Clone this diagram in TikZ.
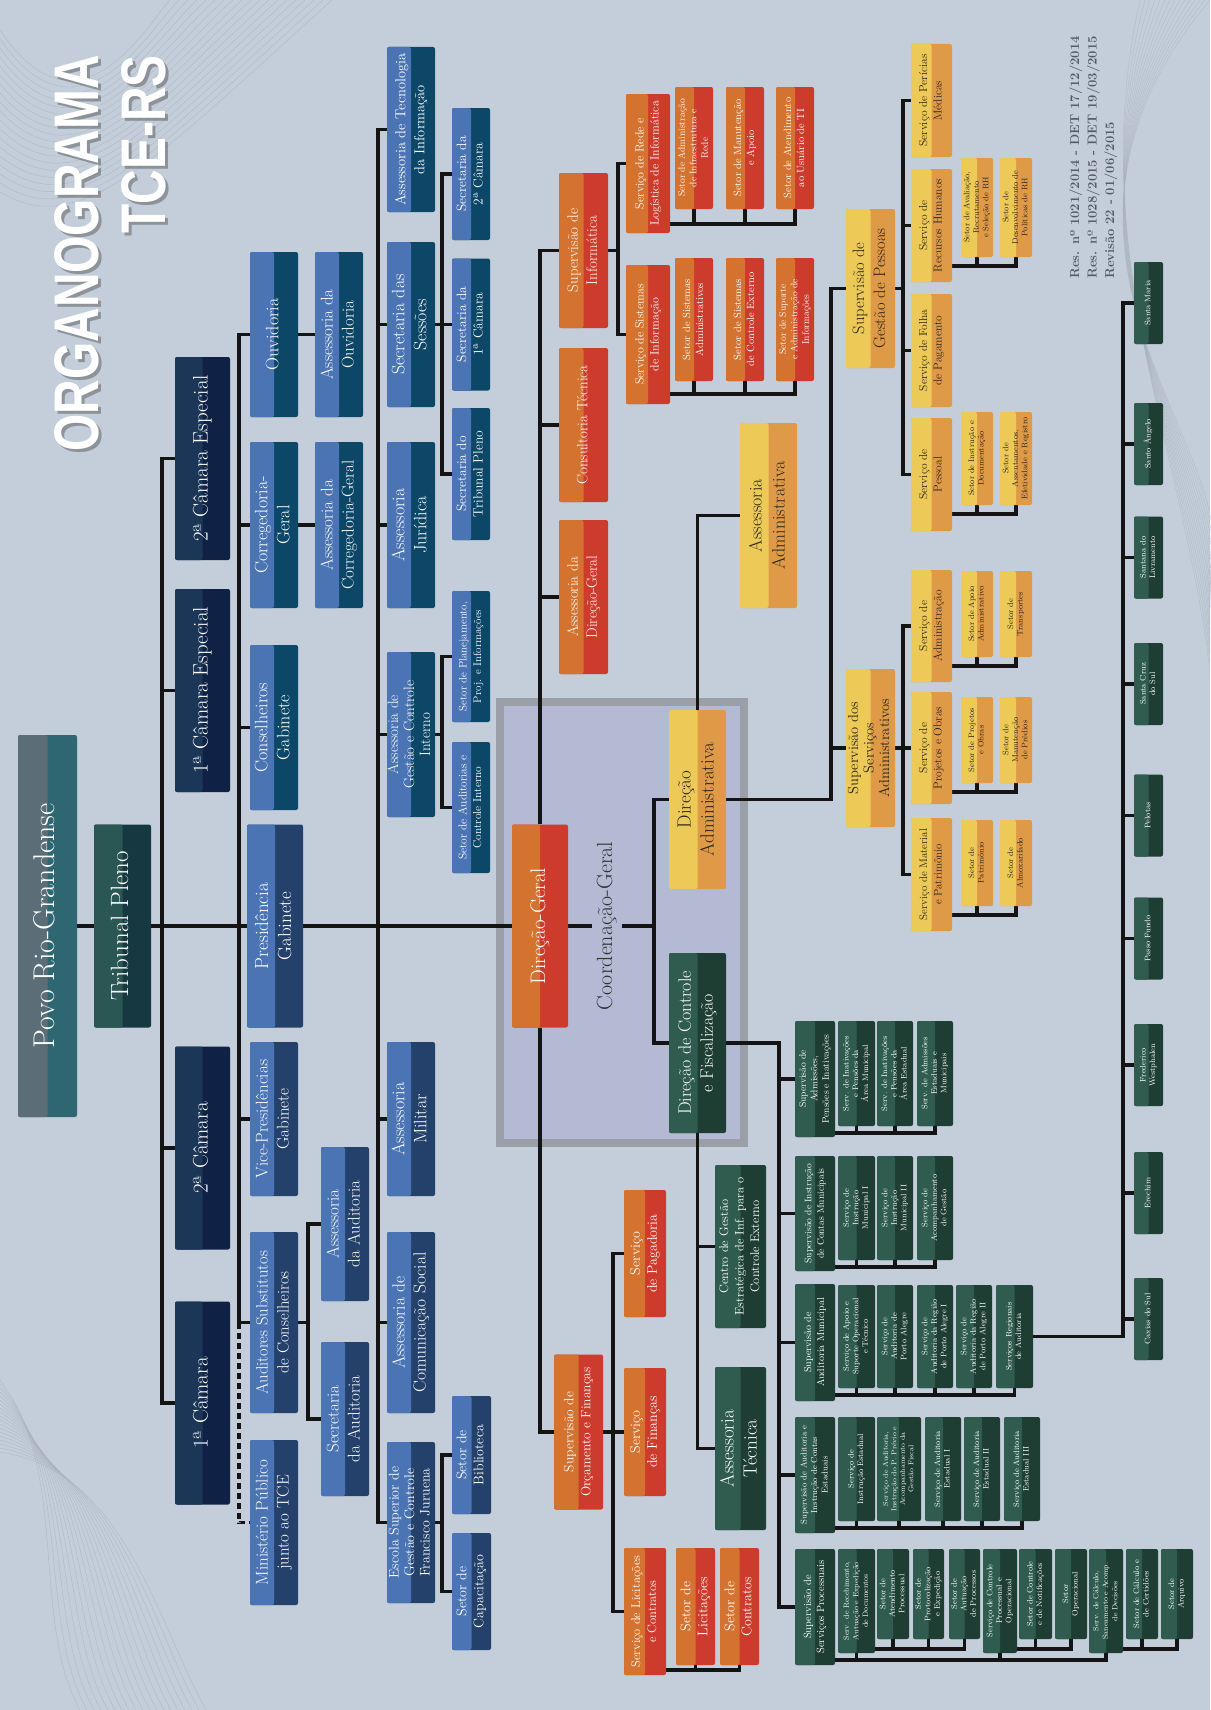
\documentclass[tikz,border=0pt]{standalone}
\usepackage{fontspec}
\usepackage{graphicx}
\usepackage{tikz}
\usetikzlibrary{calc,backgrounds}
\newfontfamily\titlefont[FakeStretch=0.76]{Liberation Sans}
\definecolor{bgc}{HTML}{C4CEDA}
\definecolor{deco}{HTML}{A7B0BB}
\definecolor{bluL}{HTML}{4A74B4}
\definecolor{bluT}{HTML}{0C4768}
\definecolor{bluN}{HTML}{24416B}
\definecolor{camL}{HTML}{1C3657}
\definecolor{camR}{HTML}{0F2246}
\definecolor{povL}{HTML}{5B6E77}
\definecolor{povR}{HTML}{2E6772}
\definecolor{triL}{HTML}{2A5653}
\definecolor{triR}{HTML}{163840}
\definecolor{orgL}{HTML}{D4722F}
\definecolor{orgR}{HTML}{CD3B2C}
\definecolor{yelL}{HTML}{EDCA57}
\definecolor{yelR}{HTML}{DF9A48}
\definecolor{yelT}{HTML}{2A2418}
\definecolor{grnL}{HTML}{2F5C4E}
\definecolor{grnR}{HTML}{1E3D33}
\definecolor{lnk}{HTML}{141414}
\definecolor{cgfill}{HTML}{B4BAD4}
\definecolor{cgline}{HTML}{9B9FA8}
\definecolor{resc}{HTML}{535C66}
\newcommand\rt[1]{\rotatebox{90}{\begin{tabular}{@{}c@{}}#1\end{tabular}}}
\newcommand\fs[2]{\fontsize{#1}{#2}\selectfont}

\begin{document}
\begin{tikzpicture}
  [x=1pt,y=-1pt,
   box/.style 2 args={rectangle, rounded corners=2pt, inner sep=0pt, text=white, fill=#2,
     path picture={\fill[#1] (path picture bounding box.north west) rectangle (path picture bounding box.south);}},
   sz/.style 2 args={minimum width=#1, minimum height=#2},
   pov/.style={box={povL}{povR}},
   tri/.style={box={triL}{triR}},
   cam/.style={box={camL}{camR}, sz={55}{203}, font=\fs{21}{25}},
   blu/.style={box={bluL}{bluT}},
   bln/.style={box={bluL}{bluN}},
   org/.style={box={orgL}{orgR}},
   yel/.style={box={yelL}{yelR}, text=yelT},
   grn/.style={box={grnL}{grnR}},
   sml/.style={grn, font=\fs{8}{9.5}},
   ysml/.style={yel, font=\fs{8}{9.5}},
   dlg/.style={grn, sz={29}{82}, font=\fs{8}{9.5}},
   link/.style={draw=lnk, line width=3.5pt}]
  \path[use as bounding box] (0,0) rectangle (1210,1710);

  % title and revision
  \node[text=black!70, opacity=.45, font=\titlefont\bfseries\fs{63}{67}, anchor=north, inner sep=0pt] (ttlshade) at (122,58)
    {\rotatebox{90}{\begin{tabular}{@{}r@{}}ORGANOGRAMA\\TCE-RS\end{tabular}}};
  \node[text=white, font=\titlefont\bfseries\fs{63}{67}, anchor=north, inner sep=0pt] (ttl) at (119,55)
    {\rotatebox{90}{\begin{tabular}{@{}r@{}}ORGANOGRAMA\\TCE-RS\end{tabular}}};
  \node[text=resc, font=\bfseries\fs{13}{17.5}, anchor=south, inner sep=0pt] (res) at (1093,279)
    {\rotatebox{90}{\begin{tabular}{@{}l@{}}Res. nº 1021/2014 - DET 17/12/2014\\Res. nº 1028/2015 - DET 19/03/2015\\Revisão 22 - 01/06/2015\end{tabular}}};

  % top of the tree
  \node[pov, sz={59}{382}, font=\fs{30}{34}] (povo) at (47.5,926) {\rt{Povo Rio-Grandense}};
  \node[tri, sz={57}{203}, font=\fs{25}{28}] (tribunal) at (122.5,926) {\rt{Tribunal Pleno}};
  \node[cam] (cam2e) at (202.5,458.5) {\rt{2ª Câmara Especial}};
  \node[cam] (cam1e) at (202.5,690.5) {\rt{1ª Câmara Especial}};
  \node[cam] (cam2)  at (202.5,1148)  {\rt{2ª Câmara}};
  \node[cam] (cam1)  at (202.5,1403)  {\rt{1ª Câmara}};

  % gabinetes
  \node[blu, sz={48}{165}, font=\fs{18}{22}] (ouvid) at (274,334.5) {\rt{Ouvidoria}};
  \node[blu, sz={48}{165}, font=\fs{17}{21}] (asouv) at (339,334.5) {\rt{Assessoria da\\Ouvidoria}};
  \node[blu, sz={48}{166}, font=\fs{18}{22}] (correg) at (274,525) {\rt{Corregedoria-\\Geral}};
  \node[blu, sz={48}{166}, font=\fs{17}{21}] (ascorreg) at (339,525) {\rt{Assessoria da\\Corregedoria-Geral}};
  \node[blu, sz={48}{165}, font=\fs{18}{22}] (conselh) at (274,727.5) {\rt{Conselheiros\\Gabinete}};
  \node[bln, sz={56}{203}, font=\fs{19}{23}] (presid) at (275,926) {\rt{Presidência\\Gabinete}};
  \node[bln, sz={48}{154}, font=\fs{17}{21}] (vice) at (274,1119) {\rt{Vice-Presidências\\Gabinete}};
  \node[bln, sz={48}{181}, font=\fs{16.5}{21}] (audsub) at (274,1322.5) {\rt{Auditores Substitutos\\de Conselheiros}};
  \node[bln, sz={48}{165}, font=\fs{17}{21}] (minpub) at (274,1522.5) {\rt{Ministério Público\\junto ao TCE}};
  \node[bln, sz={48}{154}, font=\fs{17}{21}] (asaud) at (345,1224) {\rt{Assessoria\\da Auditoria}};
  \node[bln, sz={48}{154}, font=\fs{17}{21}] (secaud) at (345,1419) {\rt{Secretaria\\da Auditoria}};

  % assessorias
  \node[blu, sz={48}{165}, font=\fs{14.5}{19}] (asti) at (411,129.5) {\rt{Assessoria de Tecnologia\\da Informação}};
  \node[blu, sz={48}{165}, font=\fs{18}{22}] (secses) at (411,324.5) {\rt{Secretaria das\\Sessões}};
  \node[blu, sz={48}{166}, font=\fs{18}{22}] (asjur) at (411,525) {\rt{Assessoria\\Jurídica}};
  \node[blu, sz={48}{165}, font=\fs{15}{16}] (asgci) at (411,734.5) {\rt{Assessoria de\\Gestão e Controle\\Interno}};
  \node[bln, sz={48}{154}, font=\fs{18}{22}] (asmil) at (411,1119) {\rt{Assessoria\\Militar}};
  \node[bln, sz={48}{181}, font=\fs{17.5}{21}] (ascom) at (411,1322.5) {\rt{Assessoria de\\Comunicação Social}};
  \node[bln, sz={48}{161}, font=\fs{14}{15.5}] (escola) at (411,1522.5) {\rt{Escola Superior de\\Gestão e Controle\\Francisco Juruena}};
  \node[blu, sz={38}{132}, font=\fs{13.5}{16.5}] (sec2c) at (471,174) {\rt{Secretaria da\\2ª Câmara}};
  \node[blu, sz={38}{132}, font=\fs{13.5}{16.5}] (sec1c) at (471,324.5) {\rt{Secretaria da\\1ª Câmara}};
  \node[blu, sz={38}{132}, font=\fs{13.5}{16.5}] (sectp) at (471,474) {\rt{Secretaria do\\Tribunal Pleno}};
  \node[blu, sz={38}{131}, font=\fs{11}{14.5}] (setplan) at (471,656.5) {\rt{Setor de Planejamento,\\Proj. e Informações}};
  \node[blu, sz={38}{131}, font=\fs{11.5}{14.5}] (setaud) at (471,807.5) {\rt{Setor de Auditorias e\\Controle Interno}};
  \node[bln, sz={39}{118}, font=\fs{14}{17}] (setbib) at (471.5,1455) {\rt{Setor de\\Biblioteca}};
  \node[bln, sz={39}{117}, font=\fs{14}{17}] (setcap) at (471.5,1591.5) {\rt{Setor de\\Capacitação}};

  % direção-geral
  \node[org, sz={56}{203}, font=\fs{21}{25}] (dg) at (540,926) {\rt{Direção-Geral}};
  \node[text=black!80, font=\fs{22}{26}, inner sep=2pt] (cg) at (607,926) {\rt{Coordenação-Geral}};
  \node[org, sz={49}{155}, font=\fs{15}{19}] (supinf) at (583.5,250.5) {\rt{Supervisão de\\Informática}};
  \node[org, sz={49}{154}, font=\fs{15}{19}] (consult) at (583.5,425) {\rt{Consultoria Técnica}};
  \node[org, sz={49}{154}, font=\fs{15}{19}] (asdg) at (583.5,597) {\rt{Assessoria da\\Direção-Geral}};
  \node[org, sz={44}{139}, font=\fs{12}{15}] (servrede) at (648,163.5) {\rt{Serviço de Rede e\\Logística de Informática}};
  \node[org, sz={44}{139}, font=\fs{12}{15}] (servsis) at (648,334.5) {\rt{Serviço de Sistemas\\de Informação}};
  \node[org, sz={38}{122}, font=\fs{9.5}{11.5}] (setinfra) at (694,148) {\rt{Setor de Administração\\de Infraestrutura e\\Rede}};
  \node[org, sz={38}{122}, font=\fs{10.5}{13}] (setmanut) at (745,148) {\rt{Setor de Manutenção\\e Apoio}};
  \node[org, sz={38}{122}, font=\fs{10.5}{13}] (setatend) at (795,148) {\rt{Setor de Atendimento\\ao Usuário de TI}};
  \node[org, sz={38}{123}, font=\fs{10.5}{13}] (setsadm) at (694,319.5) {\rt{Setor de Sistemas\\Administrativos}};
  \node[org, sz={38}{123}, font=\fs{10.5}{13}] (setsce) at (745,319.5) {\rt{Setor de Sistemas\\de Controle Externo}};
  \node[org, sz={38}{123}, font=\fs{9.5}{11.5}] (setsup) at (795,319.5) {\rt{Setor de Suporte\\e Administração de\\Informações}};
  \node[org, sz={49}{155}, font=\fs{13.5}{17}] (supof) at (578.5,1432) {\rt{Supervisão de\\Orçamento e Finanças}};
  \node[org, sz={42}{127}, font=\fs{14}{17}] (servpag) at (645,1253.5) {\rt{Serviço\\de Pagadoria}};
  \node[org, sz={42}{128}, font=\fs{14}{17}] (servfin) at (645,1432) {\rt{Serviço\\de Finanças}};
  \node[org, sz={42}{127}, font=\fs{12.5}{16}] (servlic) at (645,1611.5) {\rt{Serviço de Licitações\\e Contratos}};
  \node[org, sz={39}{117}, font=\fs{14}{17}] (setlic) at (695.5,1606.5) {\rt{Setor de\\Licitações}};
  \node[org, sz={39}{117}, font=\fs{14}{17}] (setcon) at (739.5,1606.5) {\rt{Setor de\\Contratos}};

  % direção administrativa
  \node[yel, sz={57}{179}, font=\fs{19}{23}] (dadm) at (697.5,799.5) {\rt{Direção\\Administrativa}};
  \node[yel, sz={57}{185}, font=\fs{18}{23}] (asadm) at (768.5,515.5) {\rt{Assessoria\\Administrativa}};
  \node[yel, sz={49}{159}, font=\fs{16.5}{21}] (supgp) at (870.5,288.5) {\rt{Supervisão de\\Gestão de Pessoas}};
  \node[yel, sz={49}{158}, font=\fs{14.5}{15.5}] (supsa) at (870.5,748) {\rt{Supervisão dos\\Serviços\\Administrativos}};
  \node[yel, sz={41}{113}, font=\fs{11.5}{14.5}] (servpm) at (931.5,100.5) {\rt{Serviço de Perícias\\Médicas}};
  \node[yel, sz={41}{113}, font=\fs{11.5}{14.5}] (servrh) at (931.5,225.5) {\rt{Serviço de\\Recursos Humanos}};
  \node[yel, sz={41}{113}, font=\fs{11.5}{14.5}] (servfp) at (931.5,350.5) {\rt{Serviço de Folha\\de Pagamento}};
  \node[yel, sz={41}{113}, font=\fs{11.5}{14.5}] (servpes) at (931.5,474.5) {\rt{Serviço de\\Pessoal}};
  \node[yel, sz={41}{112}, font=\fs{11.5}{14.5}] (servadm) at (931.5,626) {\rt{Serviço de\\Administração}};
  \node[yel, sz={41}{112}, font=\fs{11.5}{14.5}] (servpo) at (931.5,748) {\rt{Serviço de\\Projetos e Obras}};
  \node[yel, sz={41}{113}, font=\fs{11}{14.5}] (servmp) at (931.5,874.5) {\rt{Serviço de Material\\e Patrimônio}};
  \node[ysml, sz={32}{99}] (setavr) at (977,207.5) {\rt{Setor de Avaliação,\\Recrutamento\\e Seleção de RH}};
  \node[ysml, sz={32}{99}] (setdpr) at (1016,207.5) {\rt{Setor de\\Desenvolvimento de\\Políticas de RH}};
  \node[ysml, sz={32}{93}] (setidoc) at (977,458.5) {\rt{Setor de Instrução e\\Documentação}};
  \node[ysml, sz={32}{93}] (setaer) at (1016,458.5) {\rt{Setor de\\Assentamentos,\\Efetividade e Registro}};
  \node[ysml, sz={32}{86}] (setapo) at (977,614) {\rt{Setor de Apoio\\Administrativo}};
  \node[ysml, sz={32}{86}] (settra) at (1016,614) {\rt{Setor de\\Transportes}};
  \node[ysml, sz={32}{86}] (setpob) at (977,740) {\rt{Setor de Projetos\\e Obras}};
  \node[ysml, sz={32}{86}] (setmpr) at (1016,740) {\rt{Setor de\\Manutenção\\de Prédios}};
  \node[ysml, sz={32}{86}] (setpat) at (977,863) {\rt{Setor de\\Patrimônio}};
  \node[ysml, sz={32}{86}] (setalm) at (1016,863) {\rt{Setor de\\Almoxarifado}};

  % direção de controle e fiscalização
  \node[grn, sz={57}{180}, font=\fs{18}{22}] (dcf) at (697.5,1043) {\rt{Direção de Controle\\e Fiscalização}};
  \node[grn, sz={51}{163}, font=\fs{12.5}{15.5}] (cgei) at (740.5,1246.5) {\rt{Centro de Gestão\\Estratégica de Inf. para o\\Controle Externo}};
  \node[grn, sz={51}{163}, font=\fs{19}{23}] (astec) at (740.5,1448.5) {\rt{Assessoria\\Técnica}};
  \node[grn, sz={40}{116}, font=\fs{9.5}{11.5}] (supapi) at (815,1079) {\rt{Supervisão de\\Admissões,\\Pensões e Inativações}};
  \node[grn, sz={40}{115}, font=\fs{9.5}{12.5}] (supicm) at (815,1213.5) {\rt{Supervisão de Instrução\\de Contas Municipais}};
  \node[grn, sz={40}{117}, font=\fs{10}{13}] (supam) at (815,1342.5) {\rt{Supervisão de\\Auditoria Municipal}};
  \node[grn, sz={40}{116}, font=\fs{8.5}{10.5}] (supaice) at (815,1475) {\rt{Supervisão de Auditoria e\\Instrução de Contas\\Estaduais}};
  \node[grn, sz={40}{116}, font=\fs{10.5}{13}] (supsp) at (815,1607) {\rt{Supervisão de\\Serviços Processuais}};
  \node[sml, sz={37}{105}] (sadm1) at (856.5,1073.5) {\rt{Serv. de Inativações\\e Pensões da\\Área Municipal}};
  \node[sml, sz={36}{105}] (sadm2) at (895,1073.5) {\rt{Serv. de Inativações\\e Pensões da\\Área Estadual}};
  \node[sml, sz={36}{105}] (sadm3) at (935,1073.5) {\rt{Serv. de Admissões\\Estaduais e\\Municipais}};
  \node[sml, sz={37}{104}] (sicm1) at (856.5,1208) {\rt{Serviço de\\Instrução\\Municipal I}};
  \node[sml, sz={36}{104}] (sicm2) at (895,1208) {\rt{Serviço de\\Instrução\\Municipal II}};
  \node[sml, sz={36}{104}] (sicm3) at (935,1208) {\rt{Serviço de\\Acompanhamento\\de Gestão}};
  \node[sml, sz={37}{103}] (sam1) at (856.5,1336.5) {\rt{Serviço de Apoio e\\Suporte Operacional\\e Técnico}};
  \node[sml, sz={36}{103}] (sam2) at (895,1336.5) {\rt{Serviço de\\Auditoria de\\Porto Alegre}};
  \node[sml, sz={36}{103}] (sam3) at (935,1336.5) {\rt{Serviço de\\Auditoria da Região\\de Porto Alegre I}};
  \node[sml, sz={36}{103}] (sam4) at (974,1336.5) {\rt{Serviço de\\Auditoria da Região\\de Porto Alegre II}};
  \node[sml, sz={37}{103}] (servreg) at (1014.5,1336.5) {\rt{Serviços Regionais\\de Auditoria}};
  \node[sml, sz={37}{104}] (sae1) at (856.5,1469) {\rt{Serviço de\\Instrução Estadual}};
  \node[sml, sz={44}{104}, font=\fs{7}{8.5}] (sae2) at (899,1469) {\rt{Serviço de Auditoria,\\Instrução do P. Prévio e\\Acompanhamento da\\Gestão Fiscal}};
  \node[sml, sz={36}{104}] (sae3) at (943,1469) {\rt{Serviço de Auditoria\\Estadual I}};
  \node[sml, sz={36}{104}] (sae4) at (982,1469) {\rt{Serviço de Auditoria\\Estadual II}};
  \node[sml, sz={36}{104}] (sae5) at (1022,1469) {\rt{Serviço de Auditoria\\Estadual III}};
  \node[sml, sz={37}{104}, font=\fs{7.5}{9.5}] (ssp1) at (856.5,1601) {\rt{Serv. de Recebimento,\\Autuação e Expedição\\de Documentos}};
  \node[sml, sz={32}{90}] (ssp1a) at (893,1594) {\rt{Setor de\\Atendimento\\Processual}};
  \node[sml, sz={31}{90}] (ssp1b) at (928.5,1594) {\rt{Setor de\\Protocolização\\e Expedição}};
  \node[sml, sz={31}{90}] (ssp1c) at (964.5,1594) {\rt{Setor de\\Autuação\\de Processos}};
  \node[sml, sz={34}{104}] (ssp2) at (1000,1601) {\rt{Serviço de Controle\\Processual e\\Operacional}};
  \node[sml, sz={33}{90}] (ssp2a) at (1035.5,1594) {\rt{Setor de Controle\\e de Notificações}};
  \node[sml, sz={32}{90}] (ssp2b) at (1071,1594) {\rt{Setor\\Operacional}};
  \node[sml, sz={34}{104}, font=\fs{7.5}{9.5}] (ssp3) at (1106,1601) {\rt{Serv. de Cálculo,\\Saneamento e Acomp.\\de Decisões}};
  \node[sml, sz={32}{90}] (ssp3a) at (1142,1594) {\rt{Setor de Cálculo e\\de Certidões}};
  \node[sml, sz={32}{90}] (ssp3b) at (1177,1594) {\rt{Setor de\\Arquivo}};

  % regional offices
  \node[dlg] (smaria)  at (1148.5,303)    {\rt{Santa Maria}};
  \node[dlg] (sangelo) at (1148.5,444)    {\rt{Santo Ângelo}};
  \node[dlg] (slivr)   at (1148.5,557.5)  {\rt{Santana do\\Livramento}};
  \node[dlg] (scruz)   at (1148.5,684)    {\rt{Santa Cruz\\do Sul}};
  \node[dlg] (pelotas) at (1148.5,815.5)  {\rt{Pelotas}};
  \node[dlg] (pfundo)  at (1148.5,938.5)  {\rt{Passo Fundo}};
  \node[dlg] (fwest)   at (1148.5,1065)   {\rt{Frederico\\Westphalen}};
  \node[dlg] (erechim) at (1148.5,1193)   {\rt{Erechim}};
  \node[dlg] (caxias)  at (1148.5,1319)   {\rt{Caxias do Sul}};

  \begin{scope}[on background layer]
    \fill[bgc] (0,0) rectangle (1210,1710);
    \foreach \i in {0,...,18}
      \draw[deco, line width=.4pt, opacity=.7] (0,{30+\i*9}) .. controls (80,{150+\i*5}) and (150,{20+\i*8}) .. ({170+\i*9},0);
    \foreach \i in {0,...,18}
      \draw[deco, line width=.4pt, opacity=.7] (0,{1380+\i*4}) .. controls ({70+\i*3},1470) and ({30+\i*7},1620) .. ({80+\i*7},1710);
    \foreach \i in {0,...,14}
      \draw[deco, line width=.4pt, opacity=.6] ({1210-\i*5},0) .. controls ({1000+\i*6},250) and ({1240-\i*4},450) .. (1210,{560+\i*8});
    \node[draw=cgline, line width=8pt, fill=cgfill, sz={244}{441}, inner sep=0pt] (frame) at (622,922.5) {};

    % main axis
    \draw[link] (povo.east) -- (dg.west);
    \draw[link] (cam2e.west) -- ++(-13,0) |- (cam1.west);
    \foreach \n in {cam1e,cam2} \draw[link] (\n.west) -- ++(-13,0);
    % gabinetes
    \draw[link] (ouvid.west) -- ++(-11,0) |- (audsub.west);
    \foreach \n in {correg,conselh,vice} \draw[link] (\n.west) -- ++(-11,0);
    \draw[link, dash pattern=on 6pt off 4pt] ([xshift=-11pt]audsub.west) |- (minpub.west);
    \draw[link] (ouvid.east) -- (asouv.west);
    \draw[link] (correg.east) -- (ascorreg.west);
    \draw[link] (asaud.west) -- ++(-13,0) |- (secaud.west);
    \draw[link] (audsub.east) -- ++(10,0);
    % assessorias
    \draw[link] (asti.west) -- ++(-9,0) |- (escola.west);
    \foreach \n in {secses,asjur,asgci,asmil,ascom} \draw[link] (\n.west) -- ++(-9,0);
    \draw[link] (sec2c.west) -- ++(-10,0) |- (sectp.west);
    \draw[link] (sec1c.west) -- ++(-10,0);
    \draw[link] (secses.east) -- ++(7,0);
    \draw[link] (setplan.west) -- ++(-10,0) |- (setaud.west);
    \draw[link] (asgci.east) -- ++(7,0);
    \draw[link] (setbib.west) -- ++(-10,0) |- (setcap.west);
    \draw[link] (escola.east) -- ++(7,0);
    % direção-geral
    \draw[link] (dg.north) |- (supinf.west);
    \foreach \n in {consult,asdg} \draw[link] (\n.west) -- (\n.west -| dg.north);
    \draw[link] (dg.south) |- (supof.west);
    \draw[link] (dg.east) -- (cg.west);
    \draw[link] (cg.east) -- ([xshift=-15pt]cg.east -| dadm.west);
    \draw[link] (dadm.west) -- ++(-15,0) |- (dcf.west);
    \draw[link] (asadm.west) -| (dadm.north);
    % informática
    \draw[link] (supinf.east) -- ++(10,0);
    \draw[link] (servrede.west) -- ++(-8,0) |- (servsis.west);
    \draw[link] (setatend.south) |- ($(servrede.east |- setatend.south)+(0,15)$);
    \foreach \n in {setinfra,setmanut} \draw[link] (\n.south) -- ++(0,15);
    \draw[link] (setsup.south) |- ($(servsis.east |- setsup.south)+(0,13)$);
    \foreach \n in {setsadm,setsce} \draw[link] (\n.south) -- ++(0,13);
    % finanças
    \draw[link] (supof.east) -- (servfin.west);
    \draw[link] (servpag.west) -- ++(-11,0) |- (servlic.west);
    \draw[link] (setcon.south) |- ($(servlic.east |- setcon.south)+(0,5)$);
    \draw[link] (setlic.south) -- ++(0,5);
    % administrativa
    \draw[link] (dadm.east) -- ++(105,0) |- (supgp.west);
    \draw[link] (supsa.west) -- ++(-15,0);
    \draw[link] (servpm.west) -- ++(-8,0) |- (servpes.west);
    \foreach \n in {servrh,servfp} \draw[link] (\n.west) -- ++(-8,0);
    \draw[link] (supgp.east) -- ++(8,0);
    \draw[link] (servadm.west) -- ++(-8,0) |- (servmp.west);
    \draw[link] (supsa.east) -- (servpo.west);
    \foreach \sv/\pa/\pb in {servrh/setavr/setdpr,servpes/setidoc/setaer,servadm/setapo/settra,servpo/setpob/setmpr,servmp/setpat/setalm}
    {
      \draw[link] (\pb.south) |- ($(\sv.east |- \pb.south)+(0,9)$);
      \draw[link] (\pa.south) -- ++(0,9);
    }
    % controle e fiscalização
    \draw[link] (dcf.south) |- (astec.west);
    \draw[link] (cgei.west) -- (cgei.west -| dcf.south);
    \draw[link] (dcf.east) -- ++(53,0) |- (supsp.west);
    \foreach \n in {supapi,supicm,supam,supaice} \draw[link] (\n.west) -- ++(-16,0);
    \draw[link] (sadm3.south) |- ($(supapi.east |- sadm3.south)+(0,7)$);
    \draw[link] (sicm3.south) |- ($(supicm.east |- sicm3.south)+(0,7)$);
    \draw[link] (servreg.south) |- ($(supam.east |- servreg.south)+(0,7)$);
    \draw[link] (sae5.south) |- ($(supaice.east |- sae5.south)+(0,7)$);
    \foreach \n in {sadm1,sadm2,sicm1,sicm2,sam1,sam2,sam3,sam4,sae1,sae2,sae3,sae4}
      \draw[link] (\n.south) -- ++(0,7);
    \draw[link] (ssp3.south) |- ($(supsp.east |- ssp3.south)+(0,7)$);
    \foreach \n in {ssp1,ssp2} \draw[link] (\n.south) -- ++(0,7);
    \draw[link] (ssp1c.south) |- ($(ssp1.east |- ssp1c.south)+(0,10)$);
    \draw[link] (ssp2b.south) |- ($(ssp2.east |- ssp2b.south)+(0,10)$);
    \draw[link] (ssp3b.south) |- ($(ssp3.east |- ssp3b.south)+(0,10)$);
    \foreach \n in {ssp1a,ssp1b,ssp2a,ssp3a} \draw[link] (\n.south) -- ++(0,10);
    % regional offices
    \draw[link] (smaria.west) -- ++(-11,0) |- (servreg.east);
    \foreach \n in {sangelo,slivr,scruz,pelotas,pfundo,fwest,erechim,caxias}
      \draw[link] (\n.west) -- ++(-11,0);
  \end{scope}
\end{tikzpicture}
\end{document}
